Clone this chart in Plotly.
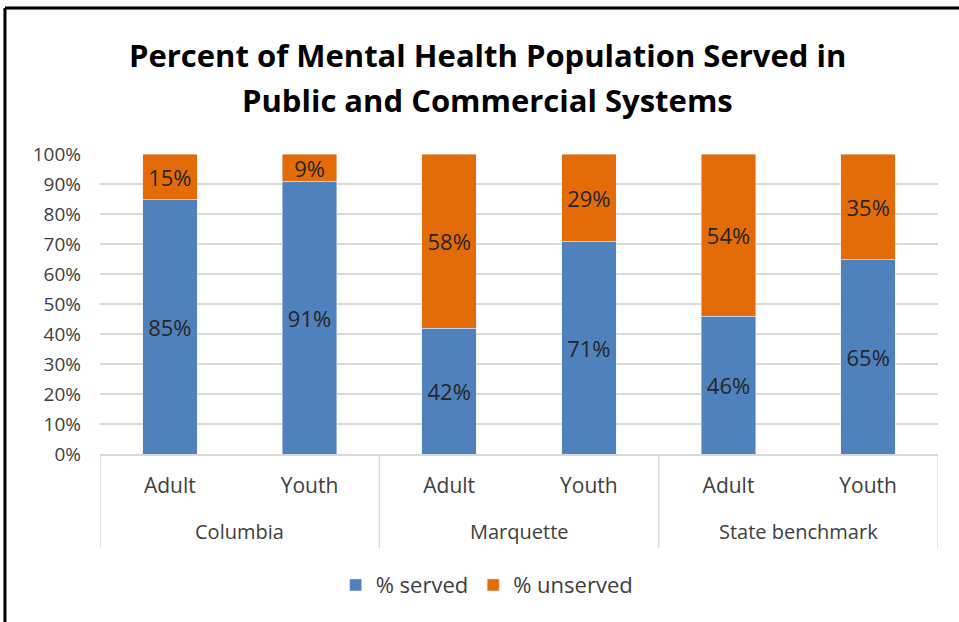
import plotly.graph_objects as go

# Data
groups = ["Columbia", "Marquette", "State benchmark"]
subgroups = ["Adult", "Youth"]
served = [85, 91, 42, 71, 46, 65]
unserved = [15, 9, 58, 29, 54, 35]
y_ticks = [0, 10, 20, 30, 40, 50, 60, 70, 80, 90, 100]
y_tick_labels = [f"{v}%" for v in y_ticks]
title_lines = ["Percent of Mental Health Population Served in",
               "Public and Commercial Systems"]

BLUE = "#4F81BD"
ORANGE = "#E36C09"
GRID = "#D9D9D9"
TEXT = "#404040"
FONT = "Open Sans"

# plot area in pixels (top margin 154, height 300)
PLOT_TOP, PLOT_H = 154, 300

x_pos = list(range(len(served)))
x_labels = [subgroups[i % 2] for i in x_pos]

fig = go.Figure()
for vals, name, color in [(served, "% served", BLUE), (unserved, "% unserved", ORANGE)]:
    fig.add_trace(go.Bar(
        x=x_pos, y=vals, name=name, marker_color=color,
        text=[f"{v}%" for v in vals], textposition="inside",
        insidetextanchor="middle", textangle=0, constraintext="none",
        textfont=dict(size=22, color="#262626", family=FONT),
        width=0.39,
    ))

shapes = []
# group dividers below the axis
for xv in [-0.5, 1.5, 3.5, 5.5]:
    shapes.append(dict(type="line", xref="x", yref="paper", x0=xv, x1=xv,
                       y0=0, y1=-0.313, line=dict(color=GRID, width=1.5)))
# chart frame (top and left edges)
shapes.append(dict(type="line", xref="paper", yref="paper", x0=-0.1134, x1=1.03,
                   y0=1.487, y1=1.487, line=dict(color="black", width=3)))
shapes.append(dict(type="line", xref="paper", yref="paper", x0=-0.1134, x1=-0.1134,
                   y0=1.487, y1=-0.6, line=dict(color="black", width=3)))

annotations = []
for gi, g in enumerate(groups):
    annotations.append(dict(x=2 * gi + 0.5, y=-0.257, xref="x", yref="paper",
                            text=g, showarrow=False, yanchor="middle",
                            font=dict(size=20, color=TEXT, family=FONT)))
# two-line chart title
for line, ypx in zip(title_lines, [55, 100]):
    annotations.append(dict(x=0.463, y=(PLOT_TOP + PLOT_H - ypx) / PLOT_H,
                            xref="paper", yref="paper",
                            text=f"<b>{line}</b>", showarrow=False,
                            xanchor="center", yanchor="middle",
                            font=dict(size=31, color="black", family=FONT)))

fig.update_layout(
    width=959, height=622,
    margin=dict(l=100, r=21, t=PLOT_TOP, b=622 - PLOT_TOP - PLOT_H),
    barmode="stack",
    plot_bgcolor="white", paper_bgcolor="white",
    xaxis=dict(
        tickmode="array", tickvals=x_pos, ticktext=x_labels,
        range=[-0.5, 5.5], showgrid=False, showline=True, linecolor=GRID,
        linewidth=1.5, ticks="", tickfont=dict(size=21, color=TEXT, family=FONT),
        ticklabelstandoff=12,
    ),
    yaxis=dict(
        range=[0, 100], tickmode="array", tickvals=y_ticks, ticktext=y_tick_labels,
        showgrid=True, gridcolor=GRID, gridwidth=1.5, zeroline=False,
        tickfont=dict(size=19, color=TEXT, family=FONT),
        ticks="", ticklabelstandoff=18,
    ),
    legend=dict(orientation="h", x=0.462, xanchor="center", y=-0.437,
                yanchor="middle", font=dict(size=22, color=TEXT, family=FONT),
                traceorder="normal"),
    shapes=shapes,
    annotations=annotations,
    uniformtext=dict(mode=False),
)

fig.write_html("out.html")
